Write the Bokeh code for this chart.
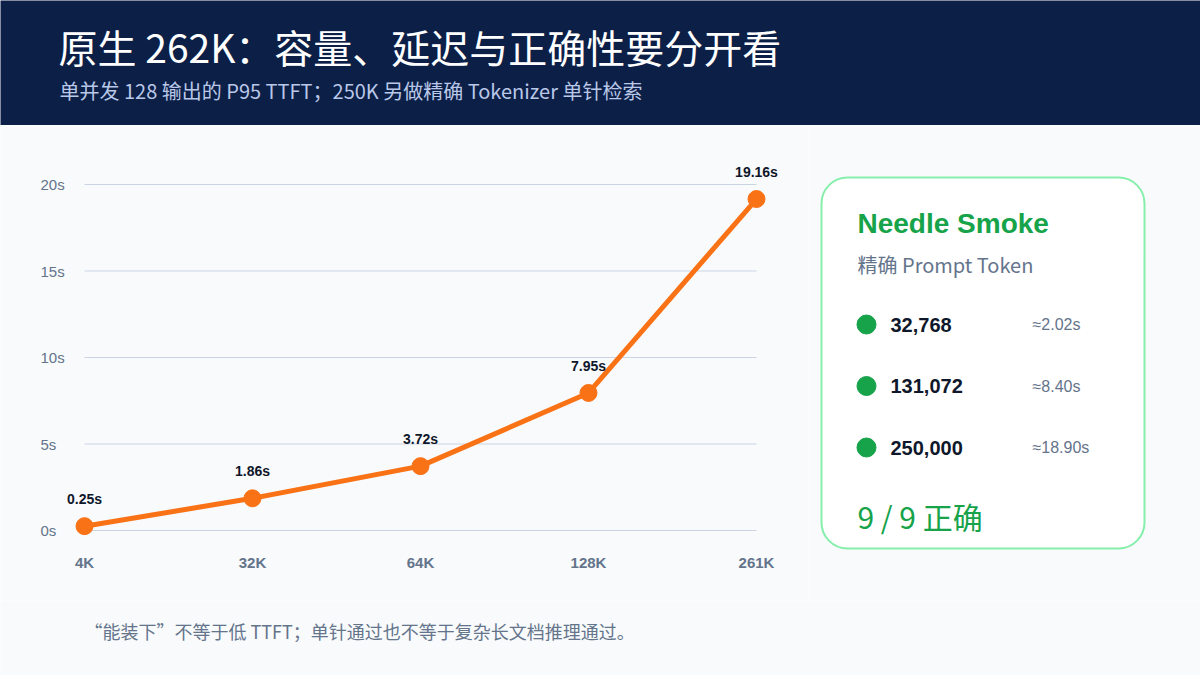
from bokeh.plotting import figure
from bokeh.models import Range1d, Label
from bokeh.layouts import column, row
from bokeh.core.properties import value
from bokeh.embed import file_html
from bokeh.resources import INLINE

# data
context_labels = ["4K", "32K", "64K", "128K", "261K"]
p95_ttft = [0.25, 1.86, 3.72, 7.95, 19.16]
y_ticks = [0, 5, 10, 15, 20]
y_tick_labels = ["0s", "5s", "10s", "15s", "20s"]
needle_tokens = ["32,768", "131,072", "250,000"]
needle_ttft = [2.02, 8.40, 18.90]
needle_passed = 9
needle_total = 9

CJK = "Noto Sans CJK SC"
LAT = "Liberation Sans"
NAVY = "#0c1f47"
BG = "#f8fafc"
ORANGE = "#f97316"
GREEN = "#16a34a"
GRAY = "#64748b"
DARK = "#0f172a"

# panels use page pixel coords (y grows downwards)
def panel(w, h, x0, y0, bg):
    p = figure(width=w, height=h, x_range=Range1d(x0, x0 + w), y_range=Range1d(y0 + h, y0),
               output_backend="svg", toolbar_location=None, min_border=0,
               x_axis_location=None, y_axis_location=None,
               background_fill_color=bg, border_fill_color=bg, outline_line_color=None)
    p.grid.visible = False
    return p

# header
head = panel(1200, 125, 0, 0, NAVY)
head.add_layout(Label(x=58, y=45, text="原生 262K：容量、延迟与正确性要分开看", text_font=CJK,
                      text_font_size="39px", text_color="white", text_baseline="middle"))
head.add_layout(Label(x=59, y=90, text="单并发 128 输出的 P95 TTFT；250K 另做精确 Tokenizer 单针检索",
                      text_font=CJK, text_font_size="20px", text_color="#b9c8e8", text_baseline="middle"))

# chart: x index -> 168px per step, first point at x=84; y 17.3px per second, 0s at y=530
px_x, px_y = 168.0, 17.3
xs = list(range(len(context_labels)))
chart = figure(width=808, height=475,
               x_range=Range1d(-84 / px_x, (808 - 84) / px_x),
               y_range=Range1d(-(600 - 530) / px_y, (530 - 125) / px_y),
               output_backend="svg", toolbar_location=None, min_border=0,
               x_axis_location=None, y_axis_location=None,
               background_fill_color=BG, border_fill_color=BG, outline_line_color=None)
chart.grid.visible = False

chart.segment(x0=[xs[0]] * len(y_ticks), x1=[xs[-1]] * len(y_ticks), y0=y_ticks, y1=y_ticks,
              line_color="#cbd5e1", line_width=1)
chart.text(x=[xs[0]] * len(y_ticks), y=y_ticks, text=y_tick_labels, x_offset=-44,
           text_font=value(LAT), text_font_size="15px", text_color=GRAY,
           text_align="left", text_baseline="middle")
chart.text(x=xs, y=[0] * len(xs), text=context_labels, y_offset=32,
           text_font=value(LAT), text_font_size="15px", text_font_style="bold",
           text_color=GRAY, text_align="center", text_baseline="middle")

chart.line(xs, p95_ttft, line_color=ORANGE, line_width=5)
chart.scatter(xs, p95_ttft, size=17, fill_color=ORANGE, line_color=ORANGE)
chart.text(x=xs, y=p95_ttft, text=[f"{v:.2f}s" for v in p95_ttft], y_offset=-27,
           text_font=value(LAT), text_font_size="14px", text_font_style="bold",
           text_color=DARK, text_align="center", text_baseline="middle")

# needle smoke card
card = panel(392, 475, 808, 125, BG)
card.quad(left=[821], right=[1144], top=[177], bottom=[548], fill_color="white",
          line_color="#86efac", line_width=2, border_radius=26)
card.add_layout(Label(x=857, y=223, text="Needle Smoke", text_font=LAT, text_font_size="28px",
                      text_font_style="bold", text_color=GREEN, text_baseline="middle"))
card.add_layout(Label(x=857, y=264, text="精确 Prompt Token", text_font=CJK, text_font_size="20px",
                      text_color=GRAY, text_baseline="middle"))
row_y = [324 + 61.5 * i for i in range(len(needle_tokens))]
card.scatter([866] * len(row_y), row_y, size=19, fill_color=GREEN, line_color=GREEN)
card.text(x=[890] * len(row_y), y=row_y, text=needle_tokens, text_font=value(LAT),
          text_font_size="20px", text_font_style="bold", text_color=DARK, text_baseline="middle")
card.text(x=[1032] * len(row_y), y=row_y, text=[f"≈{v:.2f}s" for v in needle_ttft],
          text_font=value(LAT), text_font_size="16px", text_color=GRAY, text_baseline="middle")
card.add_layout(Label(x=857, y=515, text=f"{needle_passed} / {needle_total} 正确", text_font=CJK,
                      text_font_size="30px", text_color=GREEN, text_baseline="middle"))

# footer
foot = panel(1200, 75, 0, 600, BG)
foot.add_layout(Label(x=84, y=630, text="“能装下”不等于低 TTFT；单针通过也不等于复杂长文档推理通过。",
                      text_font=CJK, text_font_size="18px", text_color=GRAY, text_baseline="middle"))

p = column(head, row(chart, card), foot)
open("out.html", "w").write(file_html(p, INLINE))
